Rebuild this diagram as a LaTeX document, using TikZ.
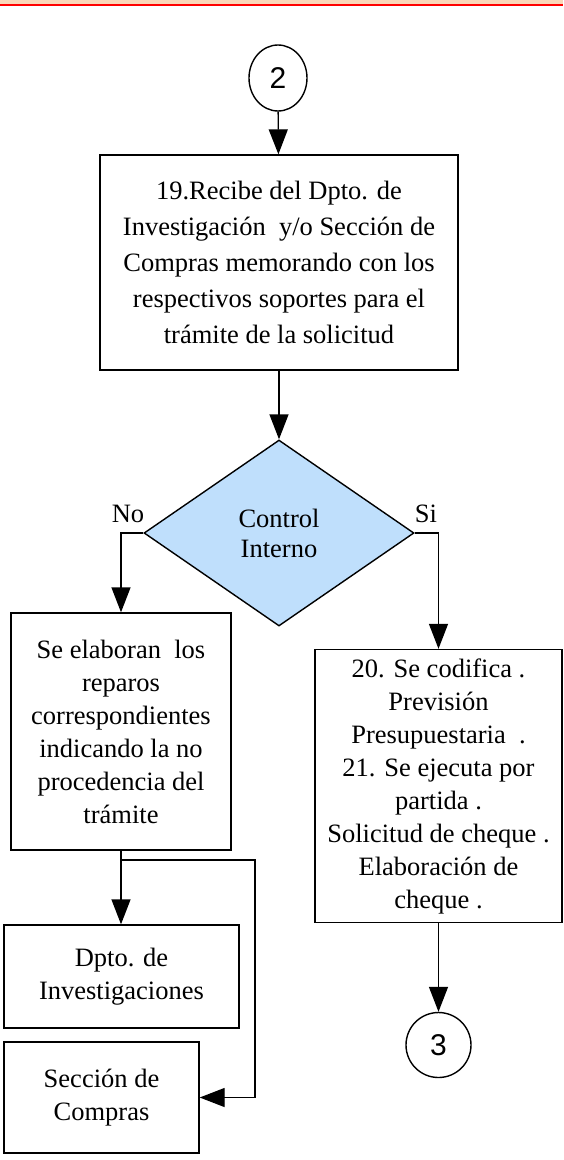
\documentclass[tikz,border=0pt]{standalone}
\usepackage{fontspec}
\setmainfont{Liberation Serif}
\newfontfamily\numfont{Liberation Sans}
\usetikzlibrary{arrows.meta,shapes.geometric,positioning}
\definecolor{azulclaro}{RGB}{191,223,252}
\definecolor{bordepag}{RGB}{250,215,185}

\begin{document}
\begin{tikzpicture}[x=1pt,y=-1pt,>={Triangle[length=25pt,width=19pt]},
                    line width=1.4pt,font=\fontsize{26.5}{33}\selectfont]
  \tikzstyle{every node}=[inner sep=0pt]
  \tikzstyle{proceso}=[draw,rectangle,align=center]
  \tikzstyle{conector}=[draw,ellipse,font=\numfont\fontsize{30}{32}\selectfont]
  \tikzstyle{decision}=[draw,diamond,fill=azulclaro,align=center,font=\fontsize{26.5}{30}\selectfont]

  \useasboundingbox (0,0) rectangle (563,1160);
  % borde superior
  \fill[bordepag] (0,0) rectangle (563,3.5);
  \draw[red,line width=2pt] (0,4.5) -- (563,4.5);

  \node[conector, minimum width=58, minimum height=66] (dos) at (278,78) {2};
  \node[proceso, minimum width=358, minimum height=215,
        font=\fontsize{26.5}{36}\selectfont] (recibe) at (279,262.5)
        {19.Recibe del Dpto. de\\Investigación\ \ y/o Sección de\\Compras memorando con los\\
         respectivos soportes para el\\trámite de la solicitud};
  \node[decision, minimum width=270, minimum height=186] (control) at (279,533) {Control\\Interno};
  \node (no) at (128,514) {No};
  \node (si) at (426,514) {Si};

  \node[proceso, minimum width=220, minimum height=237] (reparos) at (121,731.5)
        {Se elaboran\ \ los\\reparos\\correspondientes\\indicando la no\\procedencia del\\trámite};
  \node[proceso, minimum width=247, minimum height=273] (codifica) at (438.5,786)
        {20. Se codifica .\\Previsión\\Presupuestaria\ \ .\\21. Se ejecuta por\\partida .\\
         Solicitud de cheque .\\Elaboración de\\cheque .};
  \node[proceso, minimum width=235, minimum height=103] (dpto) at (121.5,976.5)
        {Dpto. de\\Investigaciones};
  \node[proceso, minimum width=195, minimum height=111] (seccion) at (101.5,1097.5)
        {Sección de\\Compras};
  \node[conector, minimum width=65, minimum height=65] (tres) at (438.5,1045) {3};

  \coordinate (rama) at (121,860);
  \coordinate (esquina) at (255,860);

  \draw[->] (dos) -- (recibe);
  \draw[->] (recibe) -- (control);
  \draw[->] (control.west) -| (reparos.north);
  \draw[->] (control.east) -| (codifica.north);
  \draw[->] (reparos.south) -- (reparos.south |- dpto.north);
  \draw[->] (rama) -- (esquina) |- (seccion.east);
  \draw[->] (codifica) -- (tres);
\end{tikzpicture}
\end{document}
